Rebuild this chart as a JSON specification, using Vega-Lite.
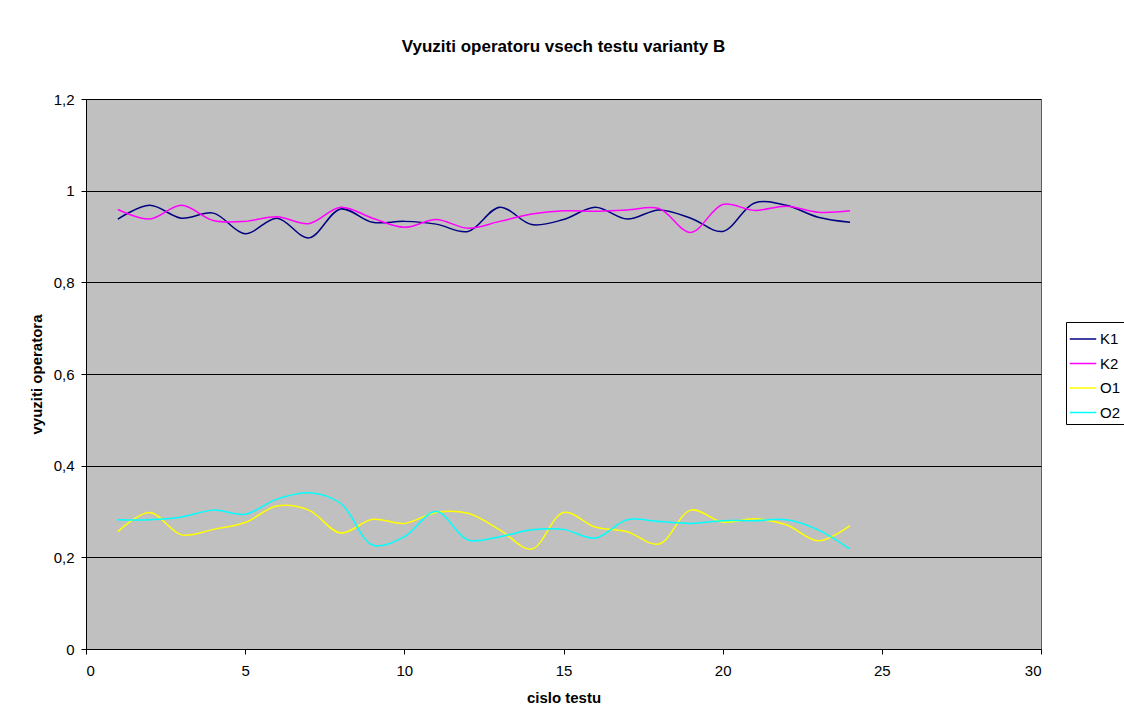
{
  "$schema": "https://vega.github.io/schema/vega-lite/v6.json",
  "width": 955,
  "height": 550,
  "autosize": {"type": "none"},
  "padding": {"left": 86, "top": 99, "right": 83, "bottom": 76},
  "background": "white",
  "title": {
    "text": "Vyuziti operatoru vsech testu varianty B",
    "font": "Liberation Sans",
    "fontSize": 17,
    "fontWeight": "bold",
    "color": "black",
    "anchor": "middle",
    "offset": 36
  },
  "config": {
    "font": "Liberation Sans",
    "view": {"fill": "#C0C0C0", "stroke": "#606060", "strokeWidth": 1},
    "axis": {
      "labelFont": "Liberation Sans",
      "labelFontSize": 15,
      "labelColor": "black",
      "titleFont": "Liberation Sans",
      "titleFontSize": 15,
      "titleFontWeight": "bold",
      "titleColor": "black",
      "tickColor": "black",
      "tickSize": 5,
      "domainColor": "black",
      "gridColor": "black",
      "gridOpacity": 1,
      "gridWidth": 1
    }
  },
  "data": {
    "values": [
      {"test": 1, "series": "K1", "value": 0.938},
      {"test": 2, "series": "K1", "value": 0.968},
      {"test": 3, "series": "K1", "value": 0.940},
      {"test": 4, "series": "K1", "value": 0.951},
      {"test": 5, "series": "K1", "value": 0.906},
      {"test": 6, "series": "K1", "value": 0.940},
      {"test": 7, "series": "K1", "value": 0.897},
      {"test": 8, "series": "K1", "value": 0.960},
      {"test": 9, "series": "K1", "value": 0.931},
      {"test": 10, "series": "K1", "value": 0.933},
      {"test": 11, "series": "K1", "value": 0.927},
      {"test": 12, "series": "K1", "value": 0.911},
      {"test": 13, "series": "K1", "value": 0.964},
      {"test": 14, "series": "K1", "value": 0.926},
      {"test": 15, "series": "K1", "value": 0.937},
      {"test": 16, "series": "K1", "value": 0.964},
      {"test": 17, "series": "K1", "value": 0.938},
      {"test": 18, "series": "K1", "value": 0.958},
      {"test": 19, "series": "K1", "value": 0.940},
      {"test": 20, "series": "K1", "value": 0.911},
      {"test": 21, "series": "K1", "value": 0.973},
      {"test": 22, "series": "K1", "value": 0.968},
      {"test": 23, "series": "K1", "value": 0.942},
      {"test": 24, "series": "K1", "value": 0.931},
      {"test": 1, "series": "K2", "value": 0.959},
      {"test": 2, "series": "K2", "value": 0.938},
      {"test": 3, "series": "K2", "value": 0.968},
      {"test": 4, "series": "K2", "value": 0.935},
      {"test": 5, "series": "K2", "value": 0.933},
      {"test": 6, "series": "K2", "value": 0.943},
      {"test": 7, "series": "K2", "value": 0.928},
      {"test": 8, "series": "K2", "value": 0.964},
      {"test": 9, "series": "K2", "value": 0.940},
      {"test": 10, "series": "K2", "value": 0.920},
      {"test": 11, "series": "K2", "value": 0.937},
      {"test": 12, "series": "K2", "value": 0.918},
      {"test": 13, "series": "K2", "value": 0.933},
      {"test": 14, "series": "K2", "value": 0.949},
      {"test": 15, "series": "K2", "value": 0.956},
      {"test": 16, "series": "K2", "value": 0.955},
      {"test": 17, "series": "K2", "value": 0.958},
      {"test": 18, "series": "K2", "value": 0.961},
      {"test": 19, "series": "K2", "value": 0.909},
      {"test": 20, "series": "K2", "value": 0.970},
      {"test": 21, "series": "K2", "value": 0.957},
      {"test": 22, "series": "K2", "value": 0.966},
      {"test": 23, "series": "K2", "value": 0.953},
      {"test": 24, "series": "K2", "value": 0.956},
      {"test": 1, "series": "O1", "value": 0.256},
      {"test": 2, "series": "O1", "value": 0.298},
      {"test": 3, "series": "O1", "value": 0.249},
      {"test": 4, "series": "O1", "value": 0.261},
      {"test": 5, "series": "O1", "value": 0.276},
      {"test": 6, "series": "O1", "value": 0.312},
      {"test": 7, "series": "O1", "value": 0.303},
      {"test": 8, "series": "O1", "value": 0.253},
      {"test": 9, "series": "O1", "value": 0.283},
      {"test": 10, "series": "O1", "value": 0.274},
      {"test": 11, "series": "O1", "value": 0.298},
      {"test": 12, "series": "O1", "value": 0.296},
      {"test": 13, "series": "O1", "value": 0.260},
      {"test": 14, "series": "O1", "value": 0.218},
      {"test": 15, "series": "O1", "value": 0.298},
      {"test": 16, "series": "O1", "value": 0.266},
      {"test": 17, "series": "O1", "value": 0.256},
      {"test": 18, "series": "O1", "value": 0.229},
      {"test": 19, "series": "O1", "value": 0.303},
      {"test": 20, "series": "O1", "value": 0.277},
      {"test": 21, "series": "O1", "value": 0.284},
      {"test": 22, "series": "O1", "value": 0.271},
      {"test": 23, "series": "O1", "value": 0.236},
      {"test": 24, "series": "O1", "value": 0.269},
      {"test": 1, "series": "O2", "value": 0.282},
      {"test": 2, "series": "O2", "value": 0.282},
      {"test": 3, "series": "O2", "value": 0.288},
      {"test": 4, "series": "O2", "value": 0.303},
      {"test": 5, "series": "O2", "value": 0.294},
      {"test": 6, "series": "O2", "value": 0.327},
      {"test": 7, "series": "O2", "value": 0.341},
      {"test": 8, "series": "O2", "value": 0.318},
      {"test": 9, "series": "O2", "value": 0.227},
      {"test": 10, "series": "O2", "value": 0.245},
      {"test": 11, "series": "O2", "value": 0.300},
      {"test": 12, "series": "O2", "value": 0.238},
      {"test": 13, "series": "O2", "value": 0.245},
      {"test": 14, "series": "O2", "value": 0.260},
      {"test": 15, "series": "O2", "value": 0.261},
      {"test": 16, "series": "O2", "value": 0.242},
      {"test": 17, "series": "O2", "value": 0.282},
      {"test": 18, "series": "O2", "value": 0.278},
      {"test": 19, "series": "O2", "value": 0.274},
      {"test": 20, "series": "O2", "value": 0.280},
      {"test": 21, "series": "O2", "value": 0.280},
      {"test": 22, "series": "O2", "value": 0.282},
      {"test": 23, "series": "O2", "value": 0.260},
      {"test": 24, "series": "O2", "value": 0.218}
    ]
  },
  "mark": {"type": "line", "interpolate": "catmull-rom", "strokeWidth": 1.5},
  "encoding": {
    "x": {
      "field": "test",
      "type": "quantitative",
      "scale": {"domain": [0, 30], "nice": false, "zero": false},
      "axis": {
        "title": "cislo testu",
        "values": [0, 5, 10, 15, 20, 25, 30],
        "grid": false,
        "labelPadding": 9,
        "titlePadding": 12,
        "domain": true
      }
    },
    "y": {
      "field": "value",
      "type": "quantitative",
      "scale": {"domain": [0, 1.2], "nice": false},
      "axis": {
        "title": "vyuziti operatora",
        "values": [0, 0.2, 0.4, 0.6, 0.8, 1, 1.2],
        "labelExpr": "replace(toString(datum.value), '.', ',')",
        "grid": true,
        "labelPadding": 7,
        "titlePadding": 9
      }
    },
    "color": {
      "field": "series",
      "type": "nominal",
      "scale": {"domain": ["K1", "K2", "O1", "O2"], "range": ["#000080", "#FF00FF", "#FFFF00", "#00FFFF"]},
      "legend": {
        "title": null,
        "orient": "none",
        "legendX": 980,
        "legendY": 223,
        "fillColor": "white",
        "strokeColor": "black",
        "padding": 3,
        "symbolType": "stroke",
        "symbolSize": 700,
        "symbolStrokeWidth": 1.5,
        "rowPadding": 2.5,
        "labelFont": "Liberation Sans",
        "labelFontSize": 15,
        "labelColor": "black",
        "labelOffset": 3
      }
    }
  }
}
